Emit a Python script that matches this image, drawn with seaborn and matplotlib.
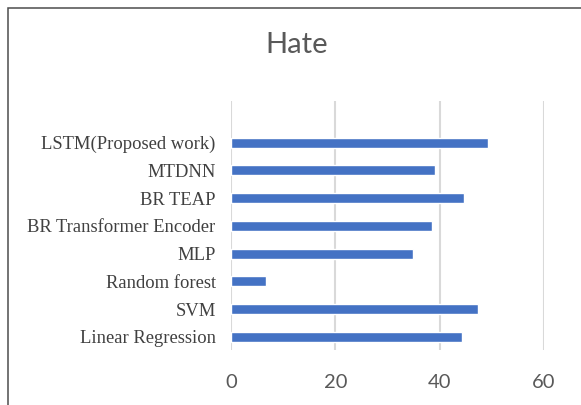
import matplotlib
matplotlib.use("Agg")
import matplotlib.pyplot as plt
import seaborn as sns
import pandas as pd
from matplotlib.patches import Rectangle

# data, top to bottom as shown
models = ["LSTM(Proposed work)", "MTDNN", "BR TEAP", "BR Transformer Encoder",
          "MLP", "Random forest", "SVM", "Linear Regression"]
scores = [49.2, 39.2, 44.6, 38.6, 34.8, 6.8, 47.4, 44.3]
xticks = [0, 20, 40, 60]

df = pd.DataFrame({"Model": models, "Score": scores})

sns.set_theme(style="white")

fig = plt.figure(figsize=(5.81, 4.05), dpi=100)
ax = fig.add_axes([0.3976, 0.1358, 0.5387, 0.6148])

sns.barplot(data=df, x="Score", y="Model", order=models, color="#4472C4",
            width=0.36, saturation=1, ax=ax, zorder=3)

ax.set_xlim(0, 60)
ax.set_ylim(7.47, -1.5)
ax.set_xticks(xticks)
ax.xaxis.grid(True, color="#d9d9d9", linewidth=1.5, zorder=0)
ax.yaxis.grid(False)
for s in ax.spines.values():
    s.set_visible(False)
ax.set_xlabel("")
ax.set_ylabel("")
ax.tick_params(axis="x", length=0, pad=17, labelsize=14.5, labelcolor="#595959")
ax.tick_params(axis="y", length=0, pad=11, labelsize=13.4, labelcolor="#404040")
for t in ax.get_xticklabels():
    t.set_fontfamily("Lato")
for t in ax.get_yticklabels():
    t.set_fontfamily("Liberation Serif")

fig.text(0.51, 1 - 45 / 405, "Hate", ha="center", va="center",
         fontsize=21, color="#595959", family="Lato")

# chart frame (only left/top visible in the crop)
fig.patches.append(Rectangle((7.5 / 581, -0.1), 1.2, 1.1 - 8 / 405, fill=False,
                             edgecolor="#4d4d4d", linewidth=1.1,
                             transform=fig.transFigure, figure=fig))

fig.savefig("out.png", dpi=100)
